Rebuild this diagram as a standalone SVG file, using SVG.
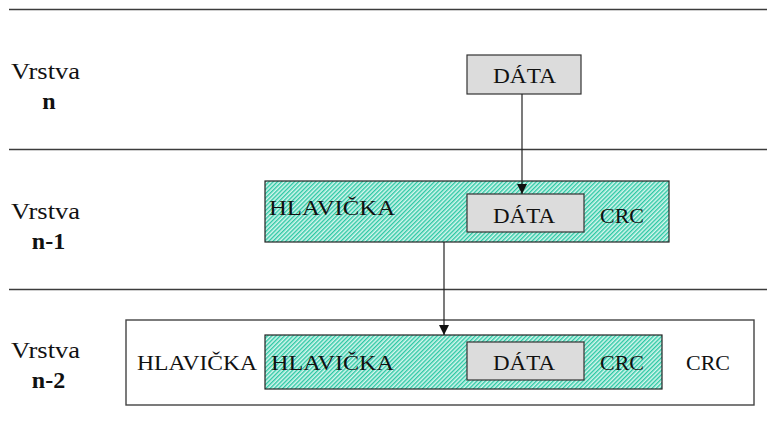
<svg xmlns="http://www.w3.org/2000/svg" width="767" height="426" viewBox="0 0 767 426">
<style>
.sep{stroke:#3c3c3c;stroke-width:1.6;fill:none}
.lbl{font-family:"Liberation Serif","Times New Roman",serif;font-size:24px;fill:#111}
.lblb{font-family:"Liberation Serif","Times New Roman",serif;font-size:24px;font-weight:bold;fill:#111}
.t{font-family:"Liberation Serif","Times New Roman",serif;font-size:22px;fill:#111}
.teal{fill:url(#hatch);stroke:#222;stroke-width:1.2}
.gray{fill:#dcdcdc;stroke:#333;stroke-width:1.2}
.outer{fill:#fff;stroke:#444;stroke-width:1.4}
.conn{stroke:#222;stroke-width:1.2;fill:none}
</style>
<defs>
<pattern id="hatch" width="3" height="3" patternUnits="userSpaceOnUse" patternTransform="rotate(45)">
<rect width="3" height="3" fill="#d6f6ee"/>
<rect width="1.4" height="3" fill="#2cc8a4"/>
</pattern>
<marker id="ah" viewBox="0 0 10 10" refX="10" refY="5" markerWidth="10" markerHeight="10" markerUnits="userSpaceOnUse" orient="auto">
<path d="M0,0 L10,5 L0,10 z" fill="#111"/>
</marker>
</defs>
<g id="separators">
<line class="sep" x1="9" y1="9.5" x2="767" y2="9.5"/>
<line class="sep" x1="9" y1="149.5" x2="767" y2="149.5"/>
<line class="sep" x1="9" y1="289.5" x2="767" y2="289.5"/>
</g>
<g id="labels">
<text class="lbl" x="11" y="79" textLength="69" lengthAdjust="spacingAndGlyphs">Vrstva</text>
<text class="lblb" x="49" y="109" text-anchor="middle">n</text>
<text class="lbl" x="11" y="219" textLength="69" lengthAdjust="spacingAndGlyphs">Vrstva</text>
<text class="lblb" x="48.5" y="249" text-anchor="middle">n-1</text>
<text class="lbl" x="11" y="358" textLength="69" lengthAdjust="spacingAndGlyphs">Vrstva</text>
<text class="lblb" x="48.5" y="388" text-anchor="middle">n-2</text>
</g>
<g id="layer-n-data">
<rect class="gray" x="467" y="55" width="114" height="39"/>
<text class="t" x="493" y="83" textLength="63" lengthAdjust="spacingAndGlyphs">DÁTA</text>
</g>
<g id="layer-n1-frame">
<rect class="teal" x="265" y="181" width="404" height="61"/>
<text class="t" x="269" y="215" textLength="126" lengthAdjust="spacingAndGlyphs">HLAVIČKA</text>
<rect class="gray" x="467" y="194" width="117" height="38"/>
<text class="t" x="493" y="223" textLength="62" lengthAdjust="spacingAndGlyphs">DÁTA</text>
<text class="t" x="600" y="223" textLength="44" lengthAdjust="spacingAndGlyphs">CRC</text>
</g>
<g id="layer-n2-frame">
<rect class="outer" x="126" y="320" width="628" height="85"/>
<text class="t" x="137" y="370" textLength="120" lengthAdjust="spacingAndGlyphs">HLAVIČKA</text>
<rect class="teal" x="265" y="335" width="397" height="54"/>
<text class="t" x="271" y="370" textLength="123" lengthAdjust="spacingAndGlyphs">HLAVIČKA</text>
<rect class="gray" x="467" y="342" width="117" height="38"/>
<text class="t" x="493" y="370" textLength="62" lengthAdjust="spacingAndGlyphs">DÁTA</text>
<text class="t" x="600" y="370" textLength="44" lengthAdjust="spacingAndGlyphs">CRC</text>
<text class="t" x="686" y="370" textLength="44" lengthAdjust="spacingAndGlyphs">CRC</text>
</g>
<g id="connectors">
<line class="conn" x1="522" y1="94" x2="522" y2="194" marker-end="url(#ah)"/>
<line class="conn" x1="444" y1="242" x2="444" y2="335" marker-end="url(#ah)"/>
</g>
</svg>
